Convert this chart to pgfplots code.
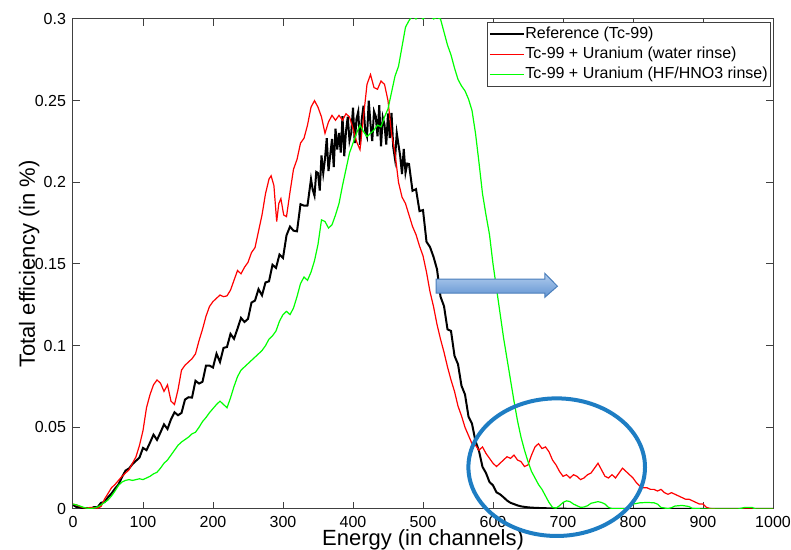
\documentclass[border=0pt]{standalone}
\usepackage{fontspec}
\setmainfont{Liberation Sans}
\usepackage{pgfplots}
\pgfplotsset{compat=1.18}
\definecolor{ellblue}{RGB}{30,125,195}
\definecolor{arrtop}{RGB}{178,205,238}
\definecolor{arrbot}{RGB}{98,148,210}
\definecolor{arredge}{RGB}{74,126,187}
\definecolor{mgreen}{RGB}{0,255,0}
\definecolor{mred}{RGB}{255,0,0}

\begin{document}
\begin{tikzpicture}
\begin{axis}[
  at={(0pt,0pt)}, anchor=south west,
  scale only axis, width=350pt, height=245pt,
  xmin=0, xmax=1000, ymin=0, ymax=0.3,
  xtick={0,100,...,1000},
  ytick={0,0.05,0.1,0.15,0.2,0.25,0.3},
  scaled y ticks=false,
  xticklabel style={/pgf/number format/set thousands separator={}},
  yticklabel style={/pgf/number format/fixed, /pgf/number format/precision=2},
  /pgf/number format/assume math mode=true,
  tick label style={font=\fontsize{8}{9}\selectfont},
  major tick length=3.5pt,
  tick align=inside,
  axis line style={black!75, line width=0.5pt},
  every tick/.style={black!75, line width=0.5pt},
  xlabel={Energy (in channels)},
  ylabel={Total efficiency (in \%)},
  label style={font=\fontsize{11}{13}\selectfont},
  xlabel style={at={(axis description cs:0.5,-0.0755)}, anchor=base},
  ylabel style={at={(axis description cs:-0.0543,0.5)}, anchor=base},
  legend cell align=left,
  legend image code/.code={\draw[#1, line width=0.6pt] plot coordinates {(0pt,0pt) (17pt,0pt)};},
  legend style={at={(0.9967,0.9939)}, anchor=north east, draw=black!75,
    fill=white, font=\fontsize{8}{9.75}\selectfont, inner sep=0.8pt, row sep=0pt,
    nodes={inner sep=0.5pt, text height=6.7pt, text depth=2.4pt}},
]

% Reference (Tc-99)
\addplot[black, line width=1pt] table {
0 0.0025
5 0.0012
10 0.0010
15 0.0002
20 0.0006
25 0.0001
30 0.0012
35 0.0010
40 0.0038
45 0.0042
50 0.0072
55 0.0095
60 0.0125
65 0.0150
70 0.0195
75 0.0235
80 0.0248
85 0.0275
90 0.0295
95 0.0315
100 0.0374
105 0.0360
110 0.0406
115 0.0455
120 0.0423
125 0.0469
130 0.0518
135 0.0490
140 0.0549
145 0.0592
150 0.0574
155 0.0588
160 0.0670
165 0.0684
170 0.0682
175 0.0785
180 0.0768
185 0.0779
190 0.0878
195 0.0878
200 0.0866
205 0.0951
210 0.0900
215 0.0986
220 0.0992
225 0.1072
230 0.1042
235 0.1104
240 0.1170
245 0.1145
250 0.1164
255 0.1264
260 0.1276
265 0.1346
270 0.1308
275 0.1387
280 0.1394
285 0.1495
290 0.1476
295 0.1558
300 0.1537
305 0.1675
310 0.1729
315 0.1704
320 0.1700
325 0.1866
330 0.1857
335 0.1858
340 0.2020
342.5 0.1954
345 0.1918
347.5 0.2064
350 0.2057
352.5 0.1950
355 0.2165
357.5 0.2056
360 0.2144
362.5 0.2270
365 0.2069
367.5 0.2167
370 0.2265
372.5 0.2093
375 0.2329
377.5 0.2201
380 0.2302
382.5 0.2182
385 0.2405
387.5 0.2160
390 0.2313
392.5 0.2401
395 0.2255
397.5 0.2304
400 0.2457
402.5 0.2241
405 0.2389
407.5 0.2433
410 0.2230
412.5 0.2386
415 0.2469
417.5 0.2313
420 0.2279
422.5 0.2500
425 0.2357
427.5 0.2253
430 0.2435
432.5 0.2404
435 0.2282
437.5 0.2472
440 0.2220
442.5 0.2397
445 0.2353
447.5 0.2231
450 0.2421
452.5 0.2271
455 0.2425
457.5 0.2215
460 0.2143
462.5 0.2302
465 0.2229
467.5 0.2158
470 0.2050
472.5 0.2205
475 0.2059
477.5 0.2115
480 0.2112
485 0.1948
490 0.1958
495 0.1824
500 0.1830
505 0.1636
510 0.1604
515 0.1544
520 0.1468
525 0.1300
530 0.1242
535 0.1100
540 0.1090
545 0.0938
550 0.0886
555 0.0754
560 0.0701
565 0.0566
570 0.0522
575 0.0415
580 0.0355
585 0.0258
590 0.0220
595 0.0165
600 0.0145
605 0.0102
610 0.0090
615 0.0072
620 0.0052
625 0.0038
630 0.0030
635 0.0022
640 0.0016
650 0.0010
660 0.0007
680 0.0004
700 0.0002
720 0.0
1000 0.0
};
\addlegendentry{Reference (Tc-99)}

% Tc-99 + Uranium (water rinse)
\addplot[mred, line width=0.6pt] table {
0 0.0030
5 0.0025
10 0.0015
15 0.0008
20 0.0005
25 0.0010
30 0.0008
35 0.0005
40 0.0015
45 0.0060
50 0.0095
55 0.0130
60 0.0150
65 0.0175
70 0.0200
75 0.0220
80 0.0240
85 0.0280
90 0.0320
95 0.0390
100 0.0480
105 0.0620
110 0.0700
115 0.0760
120 0.0790
125 0.0770
130 0.0720
135 0.0760
140 0.0660
145 0.0640
150 0.0730
155 0.0850
160 0.0880
165 0.0900
170 0.0920
175 0.0950
180 0.1030
185 0.1100
190 0.1180
195 0.1240
200 0.1270
205 0.1290
210 0.1310
215 0.1300
220 0.1305
225 0.1340
230 0.1400
235 0.1460
240 0.1440
245 0.1480
250 0.1510
255 0.1570
260 0.1600
265 0.1700
270 0.1800
275 0.1930
280 0.2020
283 0.2040
287 0.1980
291 0.1760
294 0.1870
297 0.1900
301 0.1800
305 0.1790
310 0.1940
315 0.2080
320 0.2140
325 0.2240
330 0.2270
335 0.2350
340 0.2460
345 0.2500
350 0.2460
355 0.2400
360 0.2300
365 0.2370
370 0.2410
375 0.2380
380 0.2410
385 0.2380
390 0.2420
395 0.2400
400 0.2330
405 0.2250
410 0.2200
415 0.2400
420 0.2600
425 0.2660
430 0.2580
435 0.2570
440 0.2620
445 0.2600
450 0.2500
455 0.2300
460 0.2180
465 0.2000
470 0.1910
475 0.1870
480 0.1800
485 0.1730
490 0.1680
495 0.1610
500 0.1550
505 0.1450
510 0.1330
515 0.1240
520 0.1130
525 0.1040
530 0.0960
535 0.0870
540 0.0790
545 0.0720
550 0.0630
555 0.0570
560 0.0500
565 0.0450
570 0.0400
575 0.0390
580 0.0360
585 0.0380
590 0.0340
595 0.0310
600 0.0280
605 0.0260
610 0.0280
615 0.0300
620 0.0320
625 0.0310
630 0.0330
635 0.0300
640 0.0290
645 0.0260
650 0.0270
655 0.0330
660 0.0380
665 0.0400
670 0.0370
675 0.0380
680 0.0350
685 0.0300
690 0.0270
695 0.0230
700 0.0200
705 0.0210
710 0.0190
715 0.0210
720 0.0200
725 0.0180
730 0.0190
735 0.0210
740 0.0220
745 0.0250
750 0.0280
755 0.0240
760 0.0200
765 0.0190
770 0.0210
775 0.0190
780 0.0220
785 0.0250
790 0.0230
795 0.0210
800 0.0190
805 0.0160
810 0.0140
815 0.0130
820 0.0130
825 0.0120
830 0.0120
835 0.0110
840 0.0120
845 0.0100
850 0.0090
855 0.0100
860 0.0090
865 0.0080
870 0.0070
875 0.0060
880 0.0060
885 0.0050
890 0.0040
895 0.0030
900 0.0030
905 0.0010
910 0.0003
920 0.0
1000 0.0
};
\addlegendentry{Tc-99 + Uranium (water rinse)}

% Tc-99 + Uranium (HF/HNO3 rinse)
\addplot[mgreen, line width=0.6pt] table {
0 0.0030
5 0.0025
10 0.0018
15 0.0010
20 0.0005
25 0.0003
30 0.0006
35 0.0012
40 0.0025
45 0.0040
50 0.0055
55 0.0080
60 0.0110
65 0.0145
70 0.0165
75 0.0175
80 0.0180
85 0.0175
90 0.0180
95 0.0185
100 0.0180
105 0.0190
110 0.0200
115 0.0215
120 0.0225
125 0.0250
130 0.0280
135 0.0300
140 0.0330
145 0.0360
150 0.0390
155 0.0410
160 0.0425
165 0.0440
170 0.0460
175 0.0470
180 0.0500
185 0.0535
190 0.0560
195 0.0590
200 0.0615
205 0.0640
210 0.0660
215 0.0640
220 0.0620
225 0.0680
230 0.0750
235 0.0810
240 0.0850
245 0.0870
250 0.0890
255 0.0910
260 0.0930
265 0.0950
270 0.0970
275 0.1000
280 0.1040
285 0.1060
290 0.1090
295 0.1150
300 0.1190
305 0.1210
310 0.1190
315 0.1230
320 0.1300
325 0.1380
330 0.1420
335 0.1400
340 0.1450
345 0.1520
350 0.1620
355 0.1770
360 0.1760
365 0.1720
370 0.1740
375 0.1800
380 0.1870
385 0.1980
390 0.2080
395 0.2180
400 0.2240
405 0.2300
410 0.2350
415 0.2310
420 0.2280
425 0.2300
430 0.2320
435 0.2350
440 0.2340
445 0.2400
450 0.2450
455 0.2550
460 0.2650
465 0.2710
470 0.2830
475 0.2950
480 0.2990
485 0.3020
490 0.3000
495 0.3030
500 0.3000
505 0.3020
510 0.3030
515 0.3000
520 0.3010
525 0.3000
530 0.2920
535 0.2840
540 0.2780
545 0.2700
550 0.2630
555 0.2590
560 0.2560
565 0.2510
570 0.2440
575 0.2300
580 0.2120
585 0.1930
590 0.1800
595 0.1680
600 0.1500
605 0.1350
610 0.1200
615 0.1050
620 0.0920
625 0.0790
630 0.0660
635 0.0540
640 0.0440
645 0.0360
650 0.0290
655 0.0230
660 0.0190
665 0.0150
670 0.0120
675 0.0080
680 0.0040
685 0.0010
690 0.0005
695 0.0020
700 0.0040
705 0.0050
710 0.0045
715 0.0030
720 0.0020
725 0.0010
730 0.0012
735 0.0020
740 0.0035
745 0.0040
750 0.0045
755 0.0040
760 0.0030
765 0.0010
770 0.0002
790 0.0001
800 0.0030
810 0.0038
820 0.0040
830 0.0038
835 0.0030
840 0.0010
850 0.0002
855 0.0008
860 0.0018
870 0.0022
880 0.0015
885 0.0003
900 0.0
950 0.0
960 0.0010
970 0.0010
975 0.0
1000 0.0
};
\addlegendentry{Tc-99 + Uranium (HF/HNO3 rinse)}

% annotation arrow
\shade[top color=arrtop, bottom color=arrbot, draw=arredge, line width=0.5pt]
  (axis cs:518.6,0.1321) -- (axis cs:674,0.1321) -- (axis cs:674,0.1296)
  -- (axis cs:692,0.1364) -- (axis cs:674,0.1443) -- (axis cs:674,0.1407)
  -- (axis cs:518.6,0.1407) -- cycle;
\coordinate (ellc) at (axis cs:691,0.0256);
\end{axis}
\draw[ellblue, line width=2pt] (ellc) ellipse [x radius=44.15pt, y radius=34.4pt];
\pgfresetboundingbox
\useasboundingbox (-36.5pt,-20.5pt) rectangle (359pt,254.5pt);
\end{tikzpicture}
\end{document}
